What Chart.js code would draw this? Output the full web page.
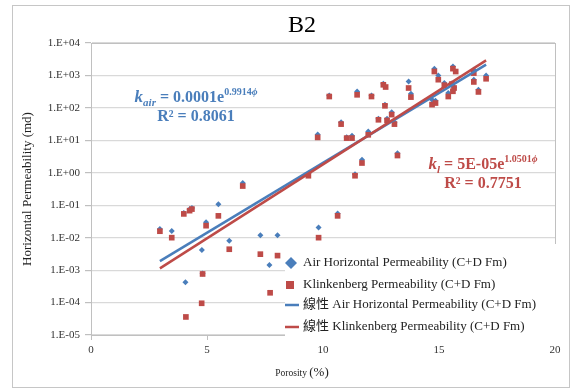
<!DOCTYPE html>
<html lang="en">
<head>
<meta charset="UTF-8">
<title>B2 Porosity vs Permeability</title>
<script src="https://cdn.jsdelivr.net/npm/chart.js"></script>
<style>
  body { margin: 0; background: #fff; }
  .frame { position: absolute; left: 12px; top: 5px; width: 556px; height: 381px; border: 1px solid #c6c6c6; }
</style>
</head>
<body>
<div class="frame"><canvas id="permChart"></canvas></div>
<script>
// core plug measurements, C+D formation
const airPorosity = [2.97, 3.48, 4.0, 4.25, 4.35, 4.96, 5.49, 6.54, 5.96, 4.78, 4.81, 4.07, 7.30, 8.04, 7.69,
  9.81, 10.63, 9.37, 9.77, 10.27, 10.78, 11.02, 11.25, 11.38, 11.47, 11.68, 11.95, 12.09, 12.39, 12.6,
  12.67, 12.76, 12.96, 13.08, 13.21, 13.69, 13.79, 14.7, 14.85, 14.8, 14.97, 15.23, 15.4, 15.6, 15.55,
  15.65, 15.6, 16.5, 16.5, 16.7, 17.03];
const airPerm = [0.0186, 0.016, 0.058, 0.075, 0.082, 0.030, 0.107, 0.48, 0.0081, 0.0042, 0.00078, 0.00042, 0.0118, 0.0118, 0.00144,
  0.0204, 0.056, 0.95, 15, 240, 36, 12.5, 13.8, 0.9, 320, 2.5, 18.6, 240, 46, 550,
  125, 46, 74, 36, 4.0, 650, 273, 178, 165, 1620, 1000, 585, 288, 1900, 560,
  430, 340, 1510, 740, 360, 1000];
const klinkPorosity = [2.97, 3.48, 4.0, 4.25, 4.35, 4.96, 5.49, 6.54, 5.96, 4.81, 4.77, 4.09, 7.30, 8.04, 7.72,
  9.81, 10.63, 9.37, 9.77, 10.27, 10.78, 11.02, 11.25, 11.38, 11.47, 11.68, 11.95, 12.09, 12.39, 12.6,
  12.7, 12.67, 12.76, 12.96, 13.08, 13.21, 13.69, 13.79, 14.7, 14.85, 14.8, 14.97, 15.23, 15.4, 15.6,
  15.72, 15.55, 15.65, 15.6, 16.5, 16.5, 16.7, 17.03];
const klinkPerm = [0.0158, 0.010, 0.054, 0.068, 0.076, 0.0234, 0.047, 0.39, 0.0044, 0.00076, 0.000095, 0.000036, 0.0031, 0.0028, 0.0002,
  0.010, 0.047, 0.81, 12.3, 224, 31.6, 11.7, 11.7, 0.81, 253, 2.0, 14.8, 224, 43, 515,
  440, 116, 41, 62, 31.6, 3.4, 410, 215, 126, 141, 1320, 740, 500, 224, 1620,
  1320, 540, 410, 325, 1180, 630, 310, 790];

// exponential fits: k = a * e^(b * phi), with R^2
const airFit = [0.0001, 0.9914, 0.8061];
const klinkFit = [5e-5, 1.0501, 0.7751];
const fitRange = [2.97, 17.03];

const yTicks = [1e-5, 1e-4, 1e-3, 1e-2, 1e-1, 1, 10, 100, 1000, 10000];
const seriesNames = ['Air Horizontal Permeability (C+D Fm)', 'Klinkenberg Permeability (C+D Fm)'];

const BLUE = '#4a7ebb';
const RED = '#be4b48';
const SERIF = '"Liberation Serif", "Times New Roman", "Noto Sans CJK TC", serif';

const toPoints = (xs, ys) => xs.map((x, i) => ({ x: x, y: ys[i] }));
const fitLine = f => fitRange.map(x => ({ x: x, y: f[0] * Math.exp(f[1] * x) }));

// Excel-style coefficient: 0.0001, 5E-05
function coef(a) {
  if (a >= 1e-4) return String(a);
  const e = Math.floor(Math.log10(a));
  const m = Math.round(a / Math.pow(10, e));
  return m + 'E-' + String(-e).padStart(2, '0');
}

function richText(ctx, parts, cx, baseline, color) {
  let w = 0;
  parts.forEach(p => { ctx.font = p.font; w += ctx.measureText(p.t).width; });
  let x = cx - w / 2;
  ctx.fillStyle = color;
  ctx.textAlign = 'left';
  ctx.textBaseline = 'alphabetic';
  parts.forEach(p => {
    ctx.font = p.font;
    ctx.fillText(p.t, x, baseline + (p.dy || 0));
    x += ctx.measureText(p.t).width;
  });
}

function equation(ctx, sub, f, cx, baseline, color) {
  richText(ctx, [
    { t: 'k', font: 'italic bold 17px ' + SERIF },
    { t: sub, font: 'italic bold 11px ' + SERIF, dy: 4 },
    { t: ' = ' + coef(f[0]) + 'e', font: 'bold 16px ' + SERIF },
    { t: f[1].toFixed(4), font: 'bold 10px ' + SERIF, dy: -7 },
    { t: 'ϕ', font: 'italic bold 10px ' + SERIF, dy: -7 }
  ], cx, baseline, color);
  richText(ctx, [{ t: 'R² = ' + f[2].toFixed(4), font: 'bold 16px ' + SERIF }], cx, baseline + 19, color);
}

const decor = {
  id: 'decor',
  beforeDatasetsDraw(chart) {
    const { ctx, chartArea: a } = chart;
    ctx.save();
    ctx.strokeStyle = '#c0c0c0';
    ctx.lineWidth = 1;
    ctx.strokeRect(a.left + 0.5, a.top + 0.5, a.right - a.left, a.bottom - a.top);
    ctx.restore();
  },
  afterDraw(chart) {
    const { ctx, chartArea: a } = chart;
    ctx.save();

    // title
    ctx.fillStyle = '#000';
    ctx.font = '24px ' + SERIF;
    ctx.textAlign = 'center';
    ctx.textBaseline = 'alphabetic';
    ctx.fillText('B2', 289, 26);

    // axis titles
    ctx.fillStyle = '#222';
    ctx.font = '13px ' + SERIF;
    ctx.save();
    ctx.translate(15, (a.top + a.bottom) / 2);
    ctx.rotate(-Math.PI / 2);
    ctx.textBaseline = 'middle';
    ctx.fillText('Horizontal Permeability (md)', 0, 0);
    ctx.restore();
    richText(ctx, [
      { t: 'Porosity ', font: '9.5px ' + SERIF },
      { t: '(%)', font: '13px ' + SERIF }
    ], 289, 370, '#222');

    // fit equations
    equation(ctx, 'air', airFit, 183, 96, BLUE);
    equation(ctx, 'l', klinkFit, 470, 163, RED);

    // legend box inside the plot
    const lx = 272, ly = 238;
    ctx.fillStyle = '#fff';
    ctx.fillRect(lx, ly, 275, 98);
    const rows = [257, 279, 299, 321];
    ctx.fillStyle = BLUE;
    ctx.beginPath();
    ctx.moveTo(278, rows[0] - 6); ctx.lineTo(284, rows[0]);
    ctx.lineTo(278, rows[0] + 6); ctx.lineTo(272, rows[0]);
    ctx.closePath(); ctx.fill();
    ctx.fillStyle = RED;
    ctx.fillRect(273, rows[1] - 4, 8, 8);
    ctx.lineWidth = 2.5;
    ctx.strokeStyle = BLUE;
    ctx.beginPath(); ctx.moveTo(272, rows[2]); ctx.lineTo(286, rows[2]); ctx.stroke();
    ctx.strokeStyle = RED;
    ctx.beginPath(); ctx.moveTo(272, rows[3]); ctx.lineTo(286, rows[3]); ctx.stroke();

    const labels = [seriesNames[0], seriesNames[1], '線性 ' + seriesNames[0], '線性 ' + seriesNames[1]];
    ctx.fillStyle = '#222';
    ctx.font = '13px ' + SERIF;
    ctx.textAlign = 'left';
    ctx.textBaseline = 'middle';
    labels.forEach((t, i) => ctx.fillText(t, 290, rows[i]));
    ctx.restore();
  }
};

Chart.defaults.font.family = SERIF;
Chart.defaults.color = '#333';

new Chart(document.getElementById('permChart'), {
  type: 'scatter',
  data: {
    datasets: [
      {
        label: seriesNames[0],
        data: toPoints(airPorosity, airPerm),
        pointStyle: 'rectRot',
        pointRadius: 3,
        backgroundColor: BLUE,
        borderColor: BLUE,
        borderWidth: 0,
        order: 4
      },
      {
        label: seriesNames[1],
        data: toPoints(klinkPorosity, klinkPerm),
        pointStyle: 'rect',
        pointRadius: 4,
        backgroundColor: RED,
        borderColor: RED,
        borderWidth: 0,
        order: 3
      },
      {
        type: 'line',
        label: '線性 ' + seriesNames[0],
        data: fitLine(airFit),
        borderColor: BLUE,
        borderWidth: 2.5,
        pointRadius: 0,
        order: 2
      },
      {
        type: 'line',
        label: '線性 ' + seriesNames[1],
        data: fitLine(klinkFit),
        borderColor: RED,
        borderWidth: 2.5,
        pointRadius: 0,
        order: 1
      }
    ]
  },
  options: {
    responsive: true,
    maintainAspectRatio: false,
    animation: false,
    layout: { padding: { top: 37, right: 14, left: 0, bottom: 0 } },
    plugins: { legend: { display: false }, tooltip: { enabled: false } },
    scales: {
      x: {
        type: 'linear',
        min: 0,
        max: 20,
        ticks: { stepSize: 5, padding: 4, font: { size: 11 } },
        grid: { drawOnChartArea: false, tickLength: 5, color: '#bfbfbf' },
        border: { color: '#bfbfbf' },
        afterFit: s => { s.height = 52; }
      },
      y: {
        type: 'logarithmic',
        min: 1e-5,
        max: 1e4,
        afterBuildTicks: s => { s.ticks = yTicks.map(v => ({ value: v })); },
        ticks: {
          padding: 5,
          font: { size: 11 },
          callback: v => {
            const e = Math.round(Math.log10(v));
            return '1.E' + (e < 0 ? '-' : '+') + String(Math.abs(e)).padStart(2, '0');
          }
        },
        grid: { color: '#d9d9d9', lineWidth: 1.2, tickLength: 6, tickColor: '#bfbfbf' },
        border: { color: '#bfbfbf' },
        afterFit: s => { s.width = 78; }
      }
    }
  },
  plugins: [decor]
});
</script>
</body>
</html>
